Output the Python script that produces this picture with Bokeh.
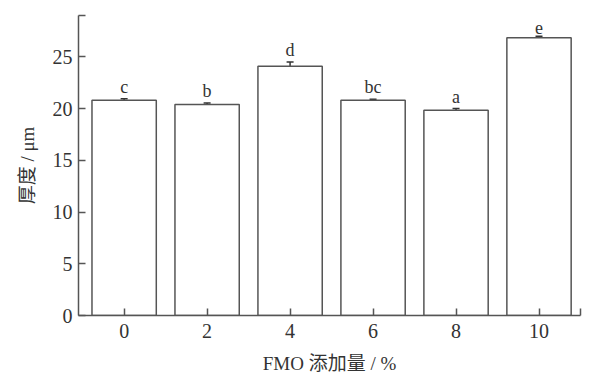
from bokeh.plotting import figure
from bokeh.models import ColumnDataSource, Whisker, TeeHead, FixedTicker, LabelSet
from bokeh.embed import file_html
from bokeh.resources import INLINE

# FMO addition level (%) and film thickness (μm)
fmo_levels = [0, 2, 4, 6, 8, 10]
thickness = [20.8, 20.4, 24.1, 20.8, 19.85, 26.85]
thickness_err = [0.15, 0.15, 0.4, 0.1, 0.15, 0.15]
sig_letters = ["c", "b", "d", "bc", "a", "e"]

y_ticks = [0, 5, 10, 15, 20, 25]
x_ticks = [0, 2, 4, 6, 8, 10]

FONT = "Liberation Serif, Times New Roman, Noto Sans CJK SC"
INK = "#555555"
TXT = "#333333"

src = ColumnDataSource(dict(
    x=fmo_levels,
    top=thickness,
    upper=[t + e for t, e in zip(thickness, thickness_err)],
    lower=[t - e for t, e in zip(thickness, thickness_err)],
    label_y=[t + e + 0.2 for t, e in zip(thickness, thickness_err)],
    letter=sig_letters,
))

p = figure(width=589, height=376, x_range=(-1.1, 11), y_range=(0, 29),
           output_backend="svg", toolbar_location=None,
           min_border_left=78, min_border_right=9, min_border_top=15,
           min_border_bottom=61)
p.outline_line_color = None
p.xgrid.visible = False
p.ygrid.visible = False
p.background_fill_color = "white"

p.vbar(x="x", top="top", width=1.55, bottom=0, source=src,
       fill_color="white", line_color=INK, line_width=1.5)

p.add_layout(Whisker(source=src, base="x", upper="upper", lower="lower",
                     line_color="#333333", line_width=1.5,
                     upper_head=TeeHead(size=7, line_color="#333333", line_width=1.5),
                     lower_head=TeeHead(size=7, line_color="#333333", line_width=1.5)))

p.add_layout(LabelSet(x="x", y="label_y", text="letter", source=src,
                      text_align="center", text_baseline="bottom",
                      text_font=FONT, text_font_size="18px", text_color=TXT))

# axis end caps are drawn as unlabeled ticks at the range limits
p.yaxis.ticker = FixedTicker(ticks=y_ticks + [29])
p.yaxis.major_label_overrides = {29: ""}
p.xaxis.ticker = FixedTicker(ticks=x_ticks + [11])
p.xaxis.major_label_overrides = {11: ""}

for ax in (p.xaxis[0], p.yaxis[0]):
    ax.axis_line_color = INK
    ax.axis_line_width = 1.5
    ax.major_tick_line_color = INK
    ax.major_tick_line_width = 1.5
    ax.major_tick_in = 7
    ax.major_tick_out = 0
    ax.minor_tick_line_color = None
    ax.major_label_text_font = FONT
    ax.major_label_text_font_size = "20px"
    ax.major_label_text_color = TXT
    ax.axis_label_text_font = FONT
    ax.axis_label_text_font_size = "19px"
    ax.axis_label_text_font_style = "normal"
    ax.axis_label_text_color = TXT

p.yaxis.axis_label = "厚度 / μm"
p.xaxis.axis_label = "FMO 添加量 / %"
p.yaxis.major_label_standoff = 6
p.xaxis.major_label_standoff = 8
p.yaxis.axis_label_standoff = 12
p.xaxis.axis_label_standoff = 12

open("out.html", "w").write(file_html(p, INLINE))
